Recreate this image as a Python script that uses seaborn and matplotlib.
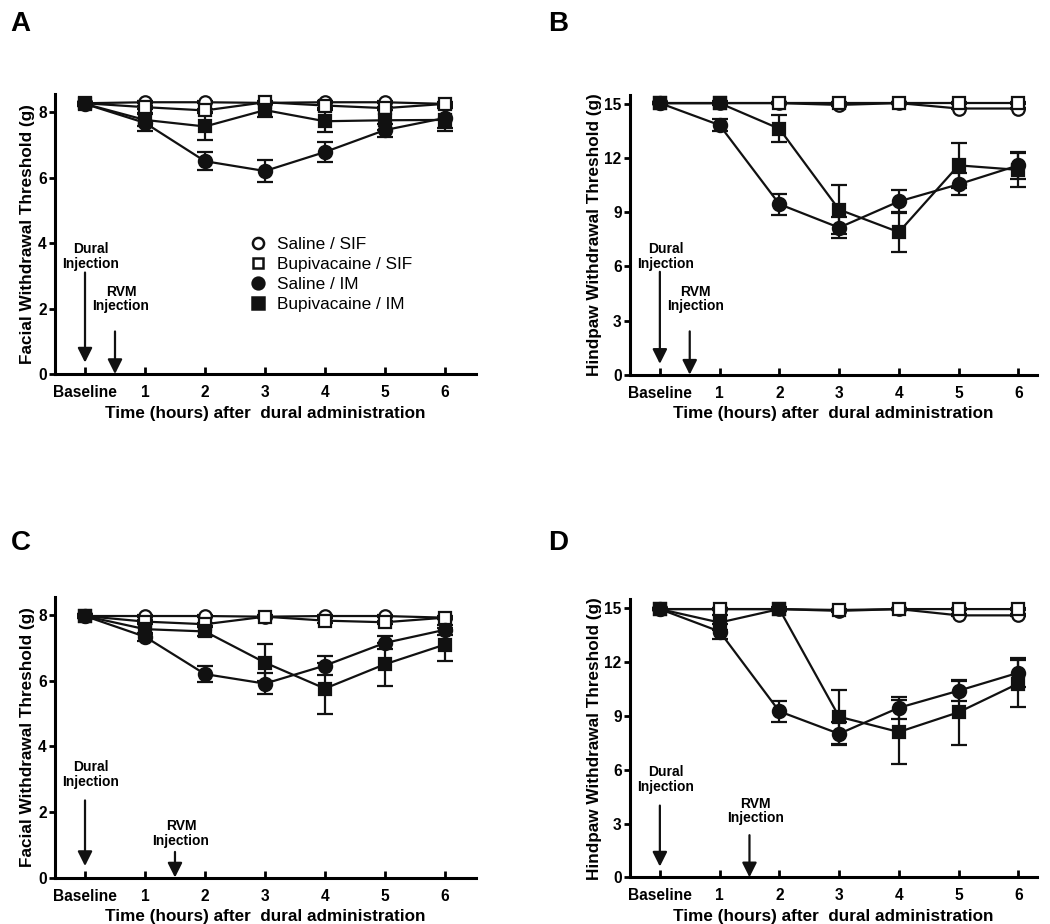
import numpy as np
import pandas as pd
import matplotlib
matplotlib.use("Agg")
import matplotlib.pyplot as plt
import seaborn as sns

sns.set_theme(style="ticks")
plt.rcParams.update({
    'font.family': ['Liberation Sans', 'DejaVu Sans'],
    'axes.linewidth': 2.2,
    'xtick.major.width': 2.0,
    'ytick.major.width': 2.0,
    'xtick.color': 'black',
    'ytick.color': 'black',
    'axes.edgecolor': 'black',
    'text.color': 'black',
    'axes.labelcolor': 'black',
})

# --- Data (means and SEM) ---
hours = [0, 1, 2, 3, 4, 5, 6]
hour_labels = ['Baseline', '1', '2', '3', '4', '5', '6']
groups = ['Saline / SIF', 'Bupivacaine / SIF', 'Saline / IM', 'Bupivacaine / IM']

# Panel A - facial, first experiment
a_sal_sif = [8.27, 8.30, 8.30, 8.28, 8.30, 8.30, 8.25]
a_bup_sif = [8.27, 8.15, 8.05, 8.30, 8.20, 8.12, 8.25]
a_sal_im = [8.25, 7.67, 6.50, 6.20, 6.78, 7.45, 7.82]
a_bup_im = [8.25, 7.76, 7.56, 8.06, 7.72, 7.75, 7.76]
a_sal_sif_sem = [0.03, 0.03, 0.03, 0.03, 0.03, 0.03, 0.03]
a_bup_sif_sem = [0.03, 0.05, 0.05, 0.05, 0.08, 0.05, 0.05]
a_sal_im_sem = [0.05, 0.26, 0.27, 0.33, 0.31, 0.20, 0.30]
a_bup_im_sem = [0.05, 0.20, 0.40, 0.22, 0.33, 0.30, 0.35]

# Panel B - hindpaw, first experiment
b_sal_sif = [15.05, 15.05, 15.05, 14.95, 15.05, 14.75, 14.75]
b_bup_sif = [15.05, 15.05, 15.05, 15.05, 15.05, 15.05, 15.05]
b_sal_im = [15.05, 13.83, 9.45, 8.15, 9.60, 10.55, 11.60]
b_bup_im = [15.05, 15.05, 13.63, 9.15, 7.90, 11.60, 11.35]
b_sal_sif_sem = [0.05, 0.05, 0.05, 0.05, 0.05, 0.05, 0.05]
b_bup_sif_sem = [0.05, 0.05, 0.05, 0.05, 0.05, 0.05, 0.05]
b_sal_im_sem = [0.05, 0.35, 0.58, 0.60, 0.62, 0.60, 0.75]
b_bup_im_sem = [0.05, 0.10, 0.75, 1.35, 1.10, 1.25, 0.95]

# Panel C - facial, second experiment
c_sal_sif = [7.97, 7.97, 7.97, 7.95, 7.97, 7.97, 7.92]
c_bup_sif = [7.97, 7.80, 7.72, 7.95, 7.83, 7.78, 7.92]
c_sal_im = [7.97, 7.34, 6.20, 5.91, 6.46, 7.15, 7.55]
c_bup_im = [7.97, 7.57, 7.50, 6.55, 5.76, 6.50, 7.10]
c_sal_sif_sem = [0.03, 0.03, 0.03, 0.03, 0.03, 0.03, 0.03]
c_bup_sif_sem = [0.03, 0.05, 0.05, 0.05, 0.08, 0.05, 0.05]
c_sal_im_sem = [0.05, 0.12, 0.24, 0.32, 0.29, 0.20, 0.15]
c_bup_im_sem = [0.05, 0.15, 0.15, 0.57, 0.78, 0.65, 0.50]

# Panel D - hindpaw, second experiment
d_sal_sif = [14.95, 14.95, 14.95, 14.85, 14.95, 14.60, 14.60]
d_bup_sif = [14.95, 14.95, 14.95, 14.90, 14.95, 14.95, 14.95]
d_sal_im = [14.95, 13.70, 9.25, 8.00, 9.45, 10.40, 11.40]
d_bup_im = [14.95, 14.20, 14.95, 8.95, 8.10, 9.20, 10.80]
d_sal_sif_sem = [0.05, 0.05, 0.05, 0.05, 0.05, 0.05, 0.05]
d_bup_sif_sem = [0.05, 0.05, 0.05, 0.05, 0.05, 0.05, 0.05]
d_sal_im_sem = [0.05, 0.40, 0.60, 0.65, 0.60, 0.55, 0.80]
d_bup_im_sem = [0.05, 0.40, 0.10, 1.50, 1.80, 1.80, 1.30]

# marker style per group: (marker, face colour, size)
STYLES = {
    'Saline / SIF': ('o', 'white', 9),
    'Bupivacaine / SIF': ('s', 'white', 8.5),
    'Saline / IM': ('o', '#111111', 9.5),
    'Bupivacaine / IM': ('s', '#111111', 9),
}


def make_long(means, sems):
    rows = []
    for g, m, s in zip(groups, means, sems):
        for h, v, e in zip(hours, m, s):
            rows.append({'hour': h, 'value': v, 'sem': e, 'group': g})
    return pd.DataFrame(rows)


def draw_panel(ax, df, ylim, yticks, ylabel, xmax, dural, rvm):
    for g in groups:
        sub = df[df['group'] == g]
        mk, fc, ms = STYLES[g]
        ax.errorbar(sub['hour'], sub['value'], yerr=sub['sem'], fmt='none',
                    ecolor='#111111', elinewidth=1.6, capsize=6, capthick=1.6, zorder=2)
        sns.lineplot(data=sub, x='hour', y='value', ax=ax, color='#111111', lw=1.6,
                     marker=mk, markersize=ms, markerfacecolor=fc,
                     markeredgecolor='#111111', markeredgewidth=1.6,
                     errorbar=None, label=g, legend=False, zorder=3)
    ax.set_xlim(-0.5, xmax)
    ax.set_ylim(*ylim)
    ax.set_yticks(yticks)
    ax.set_xticks(hours)
    ax.set_xticklabels(hour_labels)
    ax.tick_params(axis='x', direction='in', length=5, labelsize=11.2, pad=8)
    ax.tick_params(axis='y', direction='out', length=4, labelsize=11.2, pad=2)
    for lab in ax.get_xticklabels() + ax.get_yticklabels():
        lab.set_fontweight('bold')
    sns.despine(ax=ax)
    ax.set_xlabel('Time (hours) after  dural administration', fontsize=12.3,
                  fontweight='bold', labelpad=4)
    ax.set_ylabel(ylabel, fontsize=12.3, fontweight='bold', labelpad=2)

    # injection arrows: (x, text y, arrow tail, arrow tip)
    for (x, ty, tail, tip), txt in [(dural, 'Dural\nInjection'), (rvm, 'RVM\nInjection')]:
        ax.text(x + 0.1, ty, txt, ha='center', va='bottom', fontsize=10,
                fontweight='bold', linespacing=1.05)
        ax.annotate('', xy=(x, tip), xytext=(x, tail),
                    arrowprops=dict(arrowstyle='-|>', color='#111111', lw=1.6,
                                    mutation_scale=22, shrinkA=0, shrinkB=0))


fig = plt.figure(figsize=(10.5, 9.24), dpi=100)
ax_a = fig.add_axes([0.0524, 0.5952, 0.401, 0.303])
ax_b = fig.add_axes([0.600, 0.5945, 0.388, 0.3027])
ax_c = fig.add_axes([0.0524, 0.0503, 0.401, 0.3036])
ax_d = fig.add_axes([0.600, 0.0505, 0.388, 0.3010])

df_a = make_long([a_sal_sif, a_bup_sif, a_sal_im, a_bup_im],
                 [a_sal_sif_sem, a_bup_sif_sem, a_sal_im_sem, a_bup_im_sem])
df_b = make_long([b_sal_sif, b_bup_sif, b_sal_im, b_bup_im],
                 [b_sal_sif_sem, b_bup_sif_sem, b_sal_im_sem, b_bup_im_sem])
df_c = make_long([c_sal_sif, c_bup_sif, c_sal_im, c_bup_im],
                 [c_sal_sif_sem, c_bup_sif_sem, c_sal_im_sem, c_bup_im_sem])
df_d = make_long([d_sal_sif, d_bup_sif, d_sal_im, d_bup_im],
                 [d_sal_sif_sem, d_bup_sif_sem, d_sal_im_sem, d_bup_im_sem])

draw_panel(ax_a, df_a, (0, 8.55), [0, 2, 4, 6, 8], 'Facial Withdrawal Threshold (g)', 6.52,
           (0.0, 3.15, 3.1, 0.35), (0.5, 1.85, 1.3, 0.0))
draw_panel(ax_b, df_b, (0, 15.5), [0, 3, 6, 9, 12, 15], 'Hindpaw Withdrawal Threshold (g)', 6.32,
           (0.0, 5.75, 5.7, 0.6), (0.5, 3.4, 2.4, 0.0))
draw_panel(ax_c, df_c, (0, 8.55), [0, 2, 4, 6, 8], 'Facial Withdrawal Threshold (g)', 6.52,
           (0.0, 2.7, 2.35, 0.35), (1.5, 0.9, 0.78, 0.0))
draw_panel(ax_d, df_d, (0, 15.5), [0, 3, 6, 9, 12, 15], 'Hindpaw Withdrawal Threshold (g)', 6.32,
           (0.0, 4.65, 4.0, 0.6), (1.5, 2.9, 2.35, 0.0))

# legend in panel A (markers only)
handles = []
for g in groups:
    mk, fc, ms = STYLES[g]
    handles.append(plt.Line2D([], [], ls='none', marker=mk, markersize=ms - 1,
                              markerfacecolor=fc, markeredgecolor='#111111',
                              markeredgewidth=1.8, label=g))
ax_a.legend(handles=handles, loc='upper left', bbox_to_anchor=(0.445, 0.515),
            frameon=False, fontsize=12.4, handlelength=1.0, handletextpad=0.6,
            labelspacing=0.3, borderaxespad=0)

for letter, (x, y) in zip('ABCD', [(0.01, 0.988), (0.522, 0.988), (0.01, 0.426), (0.522, 0.426)]):
    fig.text(x, y, letter, fontsize=20, fontweight='bold', va='top', ha='left')

fig.savefig('out.png', dpi=100)
